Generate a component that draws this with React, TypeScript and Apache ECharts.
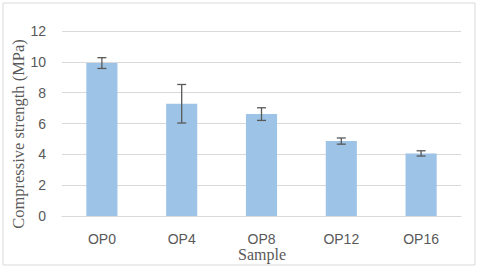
import React, { useEffect, useRef } from "react";
import * as echarts from "echarts";

const categories = ["OP0", "OP4", "OP8", "OP12", "OP16"];
const values = [9.92, 7.28, 6.61, 4.86, 4.06];
const errors = [0.35, 1.25, 0.41, 0.2, 0.17];
const yTicks = { min: 0, max: 12, interval: 2 };

export default function App() {
  const ref = useRef<HTMLDivElement>(null);
  useEffect(() => {
    const chart = echarts.init(ref.current!, null, { renderer: "svg" });
    const errData = values.map((v, i) => [i, v - errors[i], v + errors[i]]);
    chart.setOption({
      animation: false,
      backgroundColor: "#ffffff",
      grid: { left: 62, right: 19, top: 31, bottom: 53, containLabel: false },
      xAxis: {
        type: "category",
        data: categories,
        axisLine: { show: true, lineStyle: { color: "#d9d9d9", width: 1 } },
        axisTick: { show: false },
        axisLabel: { color: "#595959", fontSize: 14, fontFamily: "Liberation Sans", margin: 16 },
      },
      yAxis: {
        type: "value",
        min: yTicks.min,
        max: yTicks.max,
        interval: yTicks.interval,
        axisLine: { show: false },
        axisTick: { show: false },
        splitLine: { lineStyle: { color: "#d9d9d9", width: 1 } },
        axisLabel: { color: "#595959", fontSize: 14, fontFamily: "Liberation Sans", margin: 16 },
      },
      series: [
        {
          type: "bar",
          data: values,
          barWidth: "39%",
          itemStyle: { color: "#9dc3e6" },
          z: 2,
        },
        {
          type: "custom",
          data: errData,
          z: 3,
          renderItem: (params: any, api: any) => {
            const x = api.coord([api.value(0), api.value(1)])[0];
            const lo = api.coord([api.value(0), api.value(1)])[1];
            const hi = api.coord([api.value(0), api.value(2)])[1];
            const hw = 4.5;
            const style = { stroke: "#595959", lineWidth: 1.3 };
            return {
              type: "group",
              children: [
                { type: "line", shape: { x1: x, y1: hi, x2: x, y2: lo }, style },
                { type: "line", shape: { x1: x - hw, y1: hi, x2: x + hw, y2: hi }, style },
                { type: "line", shape: { x1: x - hw, y1: lo, x2: x + hw, y2: lo }, style },
              ],
            };
          },
        },
      ],
      graphic: [
        {
          type: "rect",
          shape: { x: 3, y: 3, width: 472, height: 262 },
          style: { fill: "none", stroke: "#d9d9d9", lineWidth: 1 },
          silent: true,
        },
        {
          type: "text",
          x: 18,
          y: 134,
          rotation: Math.PI / 2,
          style: {
            text: "Compressive strength (MPa)",
            font: "16.5px 'Liberation Serif'",
            fill: "#595959",
            align: "center",
            verticalAlign: "middle",
          },
        },
        {
          type: "text",
          x: 262,
          y: 254,
          style: {
            text: "Sample",
            font: "16px 'Liberation Serif'",
            fill: "#595959",
            align: "center",
            verticalAlign: "middle",
          },
        },
      ],
    });
    return () => chart.dispose();
  }, []);
  return (
    <div
      ref={ref}
      style={{ position: "absolute", left: 0, top: 0, width: 480, height: 269 }}
    />
  );
}
